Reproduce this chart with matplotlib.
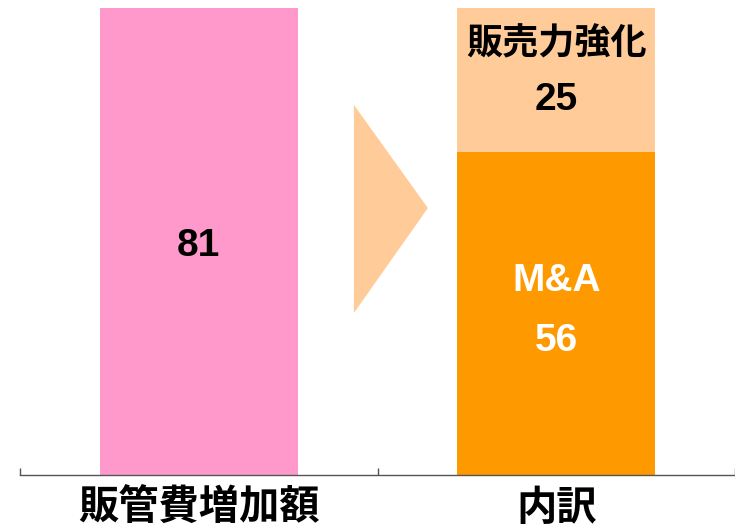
import matplotlib
matplotlib.use("Agg")
import matplotlib.pyplot as plt
from matplotlib.patches import Polygon

plt.rcParams['font.family'] = ['Noto Sans CJK JP', 'DejaVu Sans']

categories = ["販管費増加額", "内訳"]
total_value = 81
breakdown_labels = ["M&A", "販売力強化"]
breakdown_values = [56, 25]

PINK = "#FF99CC"
ORANGE = "#FF9900"
LIGHT_ORANGE = "#FFCC99"
NUM_FONT = ['Liberation Sans', 'Noto Sans CJK JP']

fig = plt.figure(figsize=(7.35, 5.32), dpi=100)
ax = fig.add_axes([20 / 735, 57 / 532, 715 / 735, 467 / 532])

bar_w = 0.555
ax.bar(0, total_value, width=bar_w, color=PINK)
ax.bar(1, breakdown_values[0], width=bar_w, color=ORANGE)
ax.bar(1, breakdown_values[1], width=bar_w, bottom=breakdown_values[0], color=LIGHT_ORANGE)

ax.text(0, total_value / 2 - 0.8, str(total_value), ha="center", va="center",
        fontsize=28, fontweight="bold", family=NUM_FONT, color="black")

mid_low = breakdown_values[0] / 2
ax.text(1, mid_low + 5.6, breakdown_labels[0], ha="center", va="center",
        fontsize=28, fontweight="bold", family=NUM_FONT, color="white")
ax.text(1, mid_low - 4.8, str(breakdown_values[0]), ha="center", va="center",
        fontsize=28, fontweight="bold", family=NUM_FONT, color="white")

mid_high = breakdown_values[0] + breakdown_values[1] / 2
ax.text(1, mid_high + 6.2, breakdown_labels[1], ha="center", va="center",
        fontsize=26, fontweight="bold", color="black")
ax.text(1, mid_high - 3.4, str(breakdown_values[1]), ha="center", va="center",
        fontsize=28, fontweight="bold", family=NUM_FONT, color="black")

# arrow-ish triangle between the two bars
tri = Polygon([(0.434, 64.2), (0.434, 28.1), (0.641, 46.3)], closed=True,
              facecolor=LIGHT_ORANGE, edgecolor="none")
ax.add_patch(tri)

ax.set_xlim(-0.5, 1.5)
ax.set_ylim(0, total_value)
ax.set_xticks([0, 1])
ax.set_xticklabels(categories, fontsize=29, fontweight="bold")
ax.tick_params(axis="x", which="major", length=0, pad=9)
ax.set_xticks([-0.5, 0.5, 1.5], minor=True)
ax.tick_params(axis="x", which="minor", direction="in", length=5, width=1, color="#555555")
ax.set_yticks([])
for side in ["left", "right", "top"]:
    ax.spines[side].set_visible(False)
ax.spines["bottom"].set_color("#555555")
ax.spines["bottom"].set_linewidth(1)

fig.savefig("out.png", dpi=100)
